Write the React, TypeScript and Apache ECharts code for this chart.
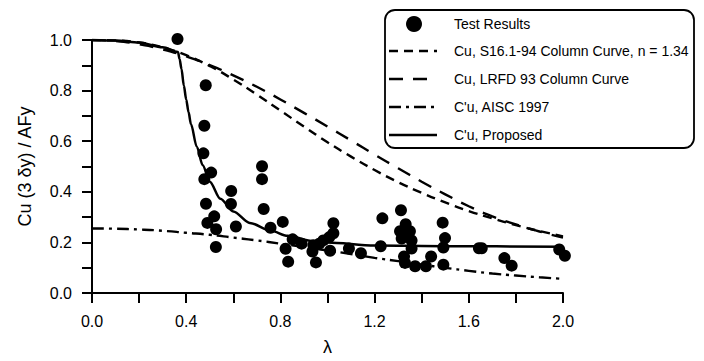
import React, { useEffect, useRef } from "react";
import * as echarts from "echarts";

// λ grid for the column curves
const curveLam = [0, 0.1, 0.2, 0.3, 0.4, 0.5, 0.6, 0.7, 0.8, 0.9, 1.0, 1.1, 1.2, 1.3, 1.4, 1.5, 1.6, 1.7, 1.8, 1.9, 2.0];
// Cu, S16.1-94 Column Curve, n = 1.34
const s16Values = [1.0, 0.998, 0.99, 0.971, 0.94, 0.897, 0.844, 0.784, 0.721, 0.658, 0.596, 0.539, 0.486, 0.438, 0.396, 0.358, 0.324, 0.295, 0.268, 0.245, 0.224];
// Cu, LRFD 93 Column Curve
const lrfdValues = [1.0, 0.996, 0.983, 0.963, 0.935, 0.901, 0.86, 0.815, 0.765, 0.712, 0.658, 0.603, 0.547, 0.493, 0.44, 0.39, 0.343, 0.303, 0.271, 0.243, 0.219];
// C'u, AISC 1997
const aiscValues = [0.255, 0.254, 0.251, 0.246, 0.238, 0.23, 0.219, 0.208, 0.195, 0.182, 0.168, 0.154, 0.139, 0.126, 0.112, 0.0995, 0.0875, 0.077, 0.069, 0.062, 0.056];

// C'u, Proposed
const propLam = [0, 0.1, 0.2, 0.3, 0.365, 0.372, 0.38, 0.39, 0.4, 0.41, 0.42, 0.445, 0.47, 0.5, 0.545, 0.6, 0.67, 0.76, 0.83, 0.94, 1.0, 1.2, 1.5, 2.0];
const propValues = [1.0, 0.998, 0.99, 0.971, 0.953, 0.925, 0.885, 0.82, 0.765, 0.715, 0.668, 0.578, 0.505, 0.44, 0.373, 0.322, 0.277, 0.246, 0.226, 0.205, 0.2, 0.188, 0.185, 0.183];

// Test Results
const testLam = [0.363, 0.483, 0.477, 0.473, 0.506, 0.477, 0.484, 0.519, 0.49, 0.527, 0.526, 0.591, 0.59, 0.611, 0.722, 0.722, 0.729, 0.758, 0.81, 0.852, 0.822, 0.833, 0.89, 0.94, 0.936, 0.951, 0.965, 0.982, 1.011, 1.008, 1.025, 1.025, 1.091, 1.142, 1.226, 1.233, 1.312, 1.332, 1.308, 1.35, 1.315, 1.357, 1.334, 1.357, 1.325, 1.329, 1.372, 1.418, 1.44, 1.489, 1.499, 1.492, 1.492, 1.643, 1.655, 1.751, 1.782, 1.984, 2.008];
const testValues = [1.004, 0.821, 0.661, 0.552, 0.476, 0.45, 0.353, 0.303, 0.277, 0.252, 0.182, 0.403, 0.352, 0.263, 0.501, 0.45, 0.332, 0.258, 0.281, 0.212, 0.175, 0.124, 0.195, 0.189, 0.164, 0.121, 0.195, 0.208, 0.167, 0.221, 0.236, 0.276, 0.176, 0.157, 0.185, 0.295, 0.327, 0.272, 0.244, 0.244, 0.215, 0.208, 0.229, 0.176, 0.144, 0.119, 0.106, 0.106, 0.144, 0.278, 0.217, 0.18, 0.112, 0.177, 0.177, 0.138, 0.108, 0.172, 0.147];

const legendLabels = [
  "Test Results",
  "Cu, S16.1-94 Column Curve, n = 1.34",
  "Cu, LRFD 93 Column Curve",
  "C'u, AISC 1997",
  "C'u, Proposed",
];

const FONT = "'Liberation Sans', Arial, sans-serif";

const zip = (xs: number[], ys: number[]) => xs.map((x, i) => [x, ys[i]]);

export default function App() {
  const ref = useRef<HTMLDivElement>(null);
  useEffect(() => {
    if (!ref.current) return;
    const chart = echarts.init(ref.current, null, { renderer: "svg" });

    const lx0 = 389, lx1 = 437, tx = 454;
    const rowY = [24, 51, 79, 107, 135];
    const dashes: (number[] | null)[] = [null, [9, 6], [14, 10], [12, 5, 3, 5], null];
    const legendGraphics: any[] = [
      {
        type: "rect",
        shape: { x: 385, y: 10, width: 309, height: 138, r: 10 },
        style: { fill: "#fff", stroke: "#000", lineWidth: 1.8 },
        z: 10,
      },
      {
        type: "circle",
        shape: { cx: 414, cy: rowY[0], r: 8 },
        style: { fill: "#000" },
        z: 11,
      },
    ];
    for (let i = 1; i < 5; i++) {
      legendGraphics.push({
        type: "line",
        shape: { x1: lx0, y1: rowY[i], x2: lx1, y2: rowY[i] },
        style: { stroke: "#000", lineWidth: 2.4, lineDash: dashes[i] || undefined },
        z: 11,
      });
    }
    legendLabels.forEach((t, i) => {
      legendGraphics.push({
        type: "text",
        x: tx,
        y: rowY[i],
        style: { text: t, fill: "#000", font: `14px ${FONT}`, verticalAlign: "middle", align: "left" },
        z: 11,
      });
    });

    chart.setOption({
      animation: false,
      backgroundColor: "#fff",
      textStyle: { fontFamily: FONT, color: "#000" },
      grid: { left: 92, right: 141, top: 40, bottom: 60 },
      xAxis: {
        type: "value",
        min: 0,
        max: 2,
        interval: 0.2,
        name: "λ",
        nameLocation: "middle",
        nameGap: 45,
        nameTextStyle: { fontSize: 18, color: "#000", fontFamily: FONT },
        axisLine: { show: true, onZero: false, lineStyle: { color: "#000", width: 2 } },
        axisTick: { show: true, length: 10, lineStyle: { color: "#000", width: 2 } },
        axisLabel: {
          fontSize: 16,
          color: "#000",
          fontFamily: FONT,
          margin: 20,
          formatter: (v: number) => (Math.round(v * 10) % 4 === 0 ? v.toFixed(1) : ""),
        },
        splitLine: { show: false },
      },
      yAxis: {
        type: "value",
        min: 0,
        max: 1,
        interval: 0.1,
        name: "Cu (3 δy) / AFy",
        nameLocation: "middle",
        nameGap: 58,
        nameTextStyle: { fontSize: 18, color: "#000", fontFamily: FONT },
        axisLine: { show: true, onZero: false, lineStyle: { color: "#000", width: 2 } },
        axisTick: { show: true, length: 10, lineStyle: { color: "#000", width: 2 } },
        axisLabel: {
          fontSize: 16,
          color: "#000",
          fontFamily: FONT,
          margin: 20,
          formatter: (v: number) => (Math.round(v * 10) % 2 === 0 ? v.toFixed(1) : ""),
        },
        splitLine: { show: false },
      },
      series: [
        {
          name: "Cu, S16.1-94 Column Curve, n = 1.34",
          type: "line",
          data: zip(curveLam, s16Values),
          smooth: true,
          showSymbol: false,
          lineStyle: { color: "#000", width: 2.4, type: [9, 6] },
        },
        {
          name: "Cu, LRFD 93 Column Curve",
          type: "line",
          data: zip(curveLam, lrfdValues),
          smooth: true,
          showSymbol: false,
          lineStyle: { color: "#000", width: 2.4, type: [14, 10] },
        },
        {
          name: "C'u, AISC 1997",
          type: "line",
          data: zip(curveLam, aiscValues),
          smooth: true,
          showSymbol: false,
          lineStyle: { color: "#000", width: 2.4, type: [12, 5, 3, 5] },
        },
        {
          name: "C'u, Proposed",
          type: "line",
          data: zip(propLam, propValues),
          smooth: 0.3,
          smoothMonotone: "x",
          showSymbol: false,
          lineStyle: { color: "#000", width: 2.5 },
        },
        {
          name: "Test Results",
          type: "scatter",
          data: zip(testLam, testValues),
          symbol: "circle",
          symbolSize: 12,
          clip: false,
          itemStyle: { color: "#000", opacity: 1 },
          z: 5,
        },
      ],
      graphic: legendGraphics,
    });
    return () => chart.dispose();
  }, []);
  return (
    <div
      ref={ref}
      style={{ position: "absolute", left: 0, top: 0, width: 704, height: 361, background: "#fff" }}
    />
  );
}
